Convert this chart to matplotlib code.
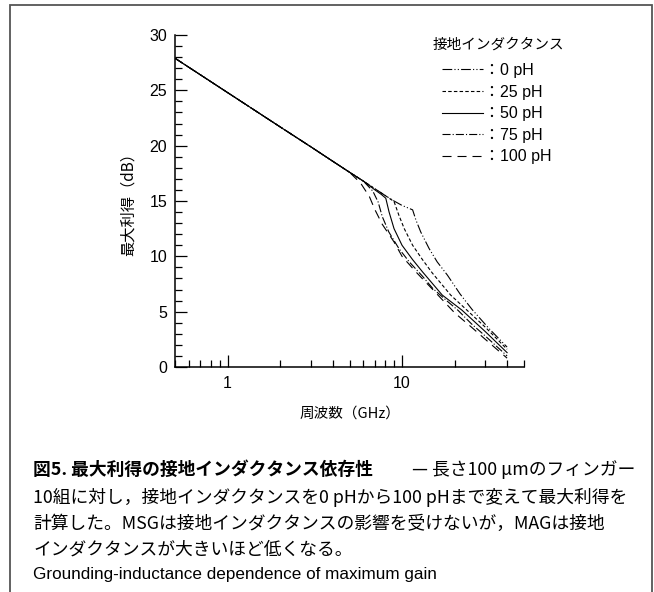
import matplotlib
matplotlib.use("Agg")
import matplotlib.pyplot as plt
from matplotlib.patches import Rectangle
from matplotlib.ticker import FixedLocator, NullFormatter

# ---- data (frequency in GHz, gain in dB) ----
freq_0ph = [0.5, 1, 2, 3, 4, 5, 6, 7, 8, 9, 10, 11.5, 12.0, 12.8, 14.3, 15.9, 18.2, 21.5, 25.2, 31.4, 40]
gain_0ph = [27.9, 24.8, 21.7, 19.9, 18.6, 17.6, 16.8, 16.1, 15.5, 15.0, 14.6, 14.2, 13.3, 12.2, 10.7, 9.5, 8.3, 6.6, 5.2, 3.5, 1.8]

freq_25ph = [0.5, 1, 2, 3, 4, 5, 6, 7, 8, 9.0, 9.6, 10.3, 11.5, 13.1, 14.9, 19.0, 23.5, 30, 40]
gain_25ph = [27.9, 24.8, 21.7, 19.9, 18.6, 17.6, 16.8, 16.1, 15.5, 14.95, 13.7, 12.5, 11.0, 9.7, 8.5, 6.5, 5.15, 3.6, 1.6]

freq_50ph = [0.5, 1, 2, 3, 4, 5, 6, 7, 7.6, 8.07, 8.43, 9.0, 10.0, 11.5, 13.1, 17.0, 22, 30, 40]
gain_50ph = [27.9, 24.8, 21.7, 19.9, 18.6, 17.6, 16.8, 16.0, 15.6, 15.25, 14.0, 12.5, 11.0, 9.7, 8.6, 6.5, 5.15, 3.2, 1.3]

freq_75ph = [0.5, 1, 2, 3, 4, 5, 6, 6.8, 7.3, 7.7, 8.4, 9.6, 11.0, 13.1, 15.0, 18, 21, 25, 30, 40]
gain_75ph = [27.9, 24.8, 21.7, 19.9, 18.6, 17.6, 16.8, 15.9, 14.9, 13.6, 12.2, 10.7, 9.5, 8.2, 7.1, 6.0, 5.1, 3.9, 2.8, 1.0]

freq_100ph = [0.5, 1, 2, 3, 4, 5, 5.8, 6.5, 7.0, 7.7, 9.0, 10.0, 12.0, 15.0, 20.0, 25, 30, 40]
gain_100ph = [27.9, 24.8, 21.7, 19.9, 18.6, 17.6, 16.6, 15.4, 14.2, 12.9, 11.3, 10.0, 8.6, 7.0, 4.9, 3.6, 2.5, 0.8]

labels = ["：0 pH", "：25 pH", "：50 pH", "：75 pH", "：100 pH"]
y_ticks = [0, 5, 10, 15, 20, 25, 30]
x_ticks = [1, 10]
x_tick_labels = ["1", "10"]

# dash patterns in points (scale_dashes off)
styles = [
    (0, (7, 1.6, 0.8, 1.6, 0.8, 1.6)),   # 0 pH   dash-dot-dot
    (0, (2.5, 1.6)),                     # 25 pH  short dash
    "-",                                 # 50 pH  solid
    (0, (5.8, 1.5, 0.8, 1.5)),           # 75 pH  dash-dot
    (0, (6.5, 4.3)),                     # 100 pH long dash
]

CJK = ["Noto Sans CJK JP", "DejaVu Sans"]
SANS = ["Liberation Sans", "DejaVu Sans"]
SANS_CJK = ["Liberation Sans", "Noto Sans CJK JP", "DejaVu Sans"]

plt.rcParams["lines.scale_dashes"] = False
plt.rcParams["font.family"] = SANS

W, H = 654, 592
fig = plt.figure(figsize=(W / 100, H / 100), dpi=100)

# outer frame (open at the bottom, like the clipped page)
fig.add_artist(Rectangle((10 / W, -0.05), (652 - 10) / W, 1.05 - 5 / H,
                         transform=fig.transFigure, fill=False,
                         edgecolor="#555555", linewidth=1.3))

ax = fig.add_axes([175 / W, 1 - 367 / H, (524 - 175) / W, (367 - 35) / H])

series = [
    (freq_0ph, gain_0ph),
    (freq_25ph, gain_25ph),
    (freq_50ph, gain_50ph),
    (freq_75ph, gain_75ph),
    (freq_100ph, gain_100ph),
]
handles = []
for (f, g), ls in zip(series, styles):
    (ln,) = ax.plot(f, g, color="black", linewidth=0.8, linestyle=ls)
    handles.append(ln)

ax.set_xscale("log")
ax.set_xlim(0.5, 50)
ax.set_ylim(0, 30)

ax.spines["top"].set_visible(False)
ax.spines["right"].set_visible(False)
for s in ("left", "bottom"):
    ax.spines[s].set_linewidth(1.1)

ax.set_xticks(x_ticks)
ax.set_xticklabels(x_tick_labels)
ax.xaxis.set_minor_formatter(NullFormatter())
ax.set_yticks(y_ticks)
ax.yaxis.set_minor_locator(FixedLocator([v for v in range(31) if v % 5]))

ax.tick_params(which="major", direction="in", length=8.5, width=0.9, labelsize=11.5)
ax.tick_params(which="minor", direction="in", length=5, width=0.9)
ax.tick_params(axis="y", which="major", pad=5.5)
ax.tick_params(axis="x", which="major", pad=6.5)

ax.set_xlabel("周波数（GHz）", family=CJK, fontsize=10.5)
ax.xaxis.set_label_coords(0.5, -0.14)
ax.xaxis.label.set_va("center")
ax.set_ylabel("最大利得（dB）", family=CJK, fontsize=11)
ax.yaxis.set_label_coords(-0.135, 0.5)
ax.yaxis.label.set_va("center")

# legend
fig.text(433 / W, 1 - 45 / H, "接地インダクタンス", family=CJK, fontsize=10.5,
         ha="left", va="center")
ax.legend(handles, labels, loc="upper left",
          bbox_to_anchor=(442 / W, 1 - 63 / H), bbox_transform=fig.transFigure,
          frameon=False, prop={"family": SANS_CJK, "size": 11.5},
          handlelength=2.55, handletextpad=0.1, labelspacing=0.41,
          borderpad=0, borderaxespad=0)

# caption
left, right = 33 / W, 635 / W
fs = 12.8
fig.text(left, 1 - 470 / H, "図5. 最大利得の接地インダクタンス依存性", family=CJK,
         fontsize=fs, fontweight="bold", ha="left", va="center")
fig.text(right, 1 - 470 / H, "— 長さ100 μmのフィンガー", family=CJK,
         fontsize=fs, ha="right", va="center")
fig.text(left, 1 - 497 / H, "10組に対し，接地インダクタンスを0 pHから100 pHまで変えて最大利得を",
         family=CJK, fontsize=fs, ha="left", va="center")
fig.text(left, 1 - 524 / H, "計算した。MSGは接地インダクタンスの影響を受けないが，MAGは接地",
         family=CJK, fontsize=fs, ha="left", va="center")
fig.text(left, 1 - 550 / H, "インダクタンスが大きいほど低くなる。",
         family=CJK, fontsize=fs, ha="left", va="center")
fig.text(left, 1 - 574 / H, "Grounding-inductance dependence of maximum gain",
         family=SANS, fontsize=12.3, ha="left", va="center")

fig.savefig("out.png", dpi=100)
